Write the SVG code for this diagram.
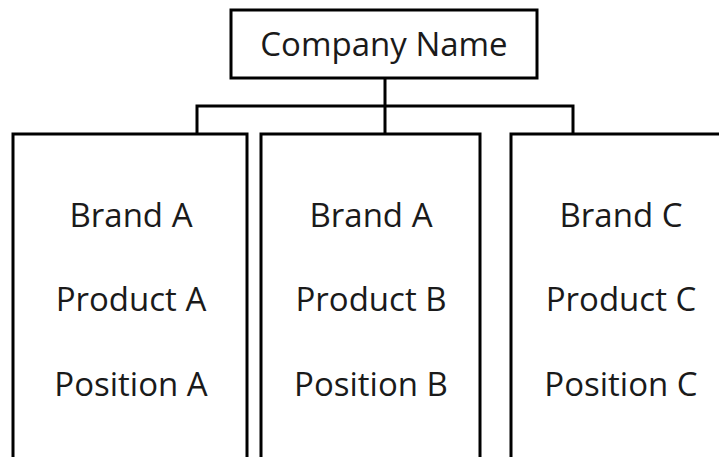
<svg xmlns="http://www.w3.org/2000/svg" width="719" height="457" viewBox="0 0 719 457">
<style>
.box{fill:#fff;stroke:#000;stroke-width:3}
.conn{fill:none;stroke:#000;stroke-width:3}
text{font-family:"Open Sans",Lato,"Liberation Sans",sans-serif;font-size:33px;fill:#1a1a1a;text-anchor:middle}
</style>
<rect width="719" height="457" fill="#fff"/>
<g id="connectors">
<path class="conn" d="M385,78 V134 M197,134 V106 H573 V134"/>
</g>
<g id="company">
<rect class="box" x="231" y="10" width="306" height="68"/>
<text x="384" y="56">Company Name</text>
</g>
<g id="groupA">
<rect class="box" x="13" y="134" width="234" height="340"/>
<text x="131" y="227">Brand A</text>
<text x="131" y="311">Product A</text>
<text x="131" y="396">Position A</text>
</g>
<g id="groupB">
<rect class="box" x="261" y="134" width="219" height="340"/>
<text x="371" y="227">Brand A</text>
<text x="371" y="311">Product B</text>
<text x="371" y="396">Position B</text>
</g>
<g id="groupC">
<rect class="box" x="511" y="134" width="230" height="340"/>
<text x="621" y="227">Brand C</text>
<text x="621" y="311">Product C</text>
<text x="621" y="396">Position C</text>
</g>
</svg>
